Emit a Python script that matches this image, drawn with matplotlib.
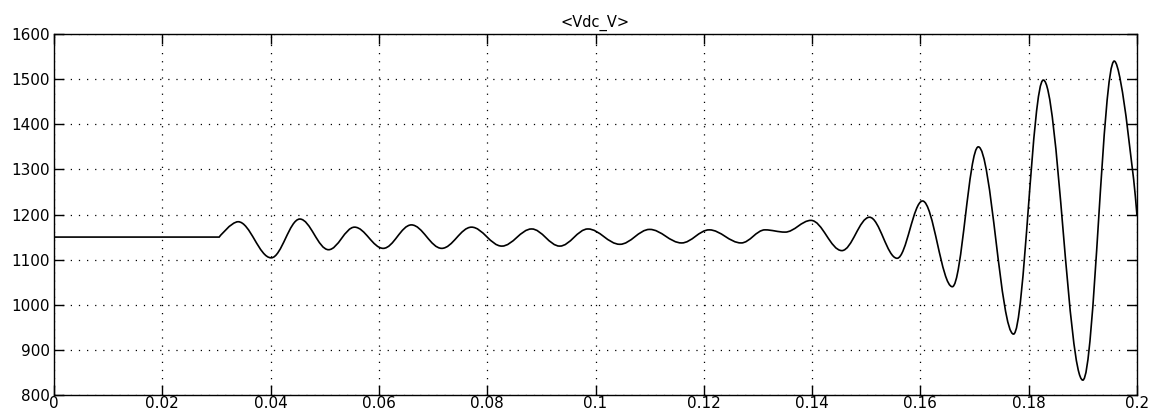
import matplotlib
matplotlib.use("Agg")
import matplotlib.pyplot as plt
from matplotlib.path import Path
from matplotlib.patches import PathPatch

# Vdc waveform: turning points (time in s, voltage in V)
t_pts = [0.0, 0.0305, 0.0340, 0.0401, 0.0454, 0.0507, 0.0555, 0.0608,
         0.0660, 0.0716, 0.0771, 0.0827, 0.0882, 0.0934, 0.0986, 0.1045,
         0.1100, 0.1159, 0.1210, 0.1269, 0.1313, 0.1350, 0.1398, 0.1455,
         0.1506, 0.1557, 0.1604, 0.1659, 0.1707, 0.1772, 0.1827, 0.1900,
         0.1958, 0.1997, 0.2000]
v_pts = [1150, 1150, 1184, 1104, 1190, 1122, 1172, 1125,
         1177, 1125, 1172, 1130, 1168, 1130, 1168, 1134,
         1167, 1137, 1166, 1137, 1166, 1161, 1187, 1120,
         1194, 1103, 1230, 1040, 1350, 935, 1498, 833,
         1540, 1240, 1198]
# points where the trace is not at a local extremum (kinks / ends)
not_extremum = {0, 1, 33, 34}

x_ticks = [0, 0.02, 0.04, 0.06, 0.08, 0.1, 0.12, 0.14, 0.16, 0.18, 0.2]
x_labels = ["0", "0.02", "0.04", "0.06", "0.08", "0.1", "0.12", "0.14", "0.16", "0.18", "0.2"]
y_ticks = [800, 900, 1000, 1100, 1200, 1300, 1400, 1500, 1600]

plt.rcParams["font.family"] = ["DejaVu Sans"]

fig = plt.figure(figsize=(11.57, 4.2), dpi=100)
ax = fig.add_axes([0.0467, 0.0595, 0.936, 0.8595])

# smooth trace: cubic segments with flat tangents at the turning points
k = 0.36
verts = [(t_pts[0], v_pts[0])]
codes = [Path.MOVETO]
for i in range(len(t_pts) - 1):
    t0, v0 = t_pts[i], v_pts[i]
    t1, v1 = t_pts[i + 1], v_pts[i + 1]
    dt = t1 - t0
    c1 = (t0, v0) if i in not_extremum else (t0 + k * dt, v0)
    c2 = (t1, v1) if (i + 1) in not_extremum else (t1 - k * dt, v1)
    verts += [c1, c2, (t1, v1)]
    codes += [Path.CURVE4] * 3

ax.add_patch(PathPatch(Path(verts, codes), fill=False, edgecolor="black", lw=1.2))

ax.set_xlim(0, 0.2)
ax.set_ylim(800, 1600)
ax.set_xticks(x_ticks)
ax.set_xticklabels(x_labels)
ax.set_yticks(y_ticks)

ax.grid(True, color="black", linestyle=(0, (1, 5.5)), lw=0.9)
ax.tick_params(direction="in", length=7, width=1, top=True, right=True,
               labelsize=11, pad=3, colors="black")
ax.tick_params(axis="x", pad=1)
for s in ax.spines.values():
    s.set_color("black")
    s.set_linewidth(1)

ax.set_title("<Vdc_V>", fontsize=10.5, pad=5)

fig.savefig("out.png", dpi=100)
